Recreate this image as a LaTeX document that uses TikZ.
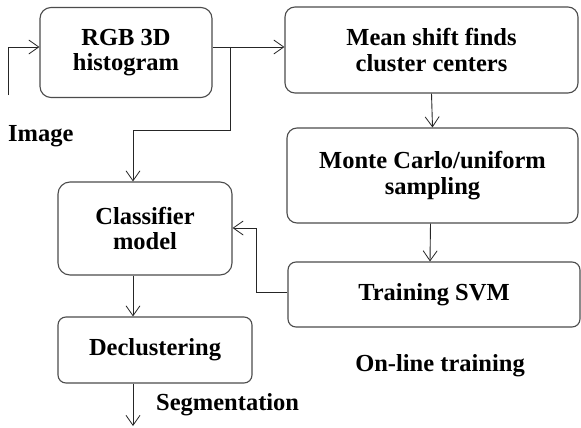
\documentclass[tikz,border=0pt]{standalone}
\usepackage{fontspec}
\setmainfont{Liberation Serif}
\usetikzlibrary{arrows.meta,calc}
\begin{document}
\begin{tikzpicture}[x=1pt,y=-1pt,
  box/.style={draw=black!70,line width=1.1pt,rounded corners=11pt,align=center,
    font=\fontsize{24.5}{25.5}\selectfont\bfseries,inner sep=0pt},
  conn/.style={draw=black!85,line width=0.9pt,-{Straight Barb[length=10pt,width=14pt,line width=0.8pt]}},
  lbl/.style={font=\fontsize{24.5}{25.5}\selectfont\bfseries,inner sep=0pt}]
\useasboundingbox (0,0) rectangle (581,428);
\fill[white] (0,0) rectangle (581,428);
\node[box,minimum width=172pt,minimum height=90pt] (rgb) at (126,52.5) {RGB 3D\\histogram};
\node[box,minimum width=293pt,minimum height=86pt,rounded corners=10pt] (ms) at (431.5,50) {Mean shift finds\\cluster centers};
\node[box,minimum width=291pt,minimum height=95pt,rounded corners=10pt] (mc) at (432.5,175.5) {Monte Carlo/uniform\\sampling};
\node[box,minimum width=292pt,minimum height=65pt,rounded corners=8pt] (svm) at (434,294.5) {Training SVM};
\node[box,minimum width=174pt,minimum height=93pt,rounded corners=12pt] (cls) at (145,228.5) {Classifier\\model};
\node[box,minimum width=194pt,minimum height=66pt,rounded corners=8pt] (dec) at (155,350) {Declustering};
\node[lbl,anchor=base west] (img) at (8,141) {Image};
\node[lbl,anchor=base west] (seg) at (156,410) {Segmentation};
\node[lbl] (onl) at (440,366) {On-line training};
\coordinate (imgstart) at (8,95);
\coordinate (br) at (230,47);
\coordinate (segend) at (133,426);
\draw[conn] (imgstart) |- ([yshift=5.5pt]rgb.west);
\draw[conn] ([yshift=5.5pt]rgb.east) -- ([yshift=3pt]ms.west);
\draw[conn] (br) -- (br |- 0,130) -| ([xshift=-12pt]cls.north);
\draw[conn] (ms.south) -- (mc.north);
\draw[conn] ([xshift=-2pt]mc.south) -- ([xshift=-4pt]svm.north);
\draw[conn] ([yshift=2.5pt]svm.west) -| (256,228) -- (cls.east |- 0,228);
\draw[conn] ([xshift=-12pt]cls.south) -- ([xshift=-22pt]dec.north);
\draw[conn] ([xshift=-22pt]dec.south) -- (segend);
\end{tikzpicture}
\end{document}
